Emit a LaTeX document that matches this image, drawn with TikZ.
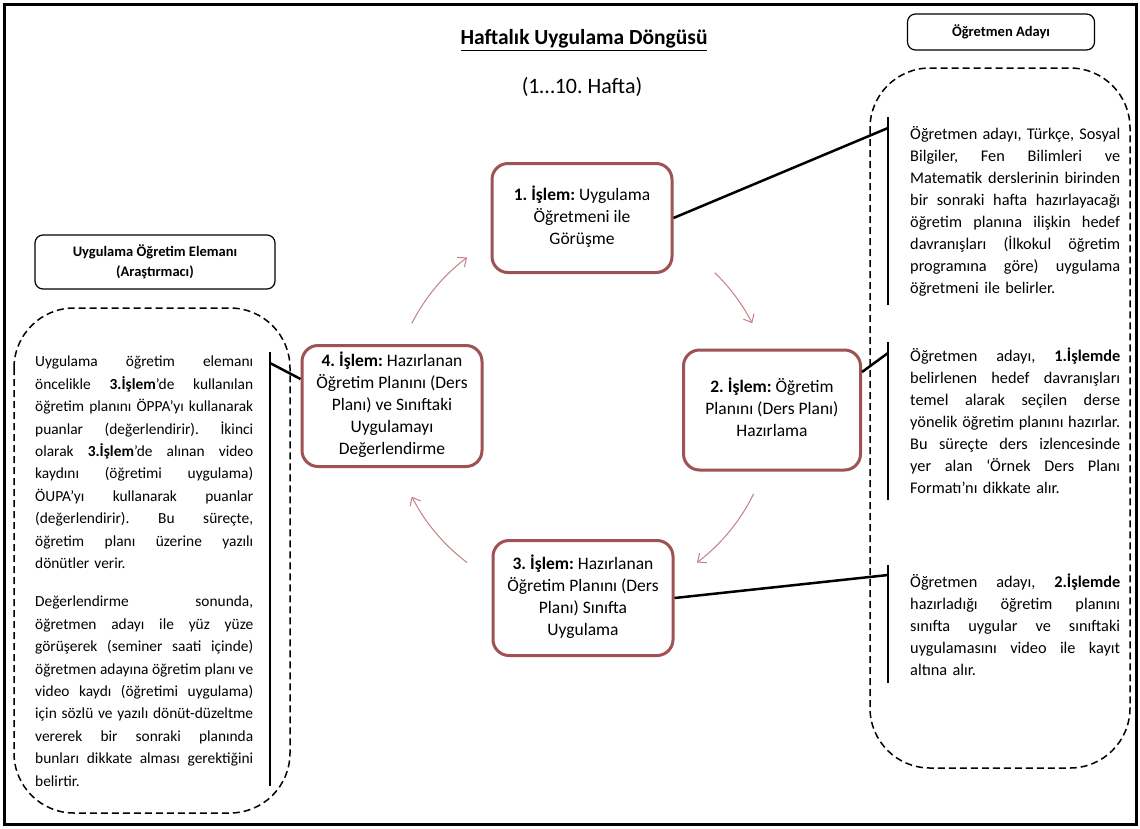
\documentclass[tikz,border=0pt]{standalone}
\usepackage{fontspec}
\setmainfont{Carlito}
\usetikzlibrary{arrows.meta,calc}
\definecolor{boxred}{RGB}{158,82,84}
\definecolor{cycred}{RGB}{196,128,132}
% one justified line of the given width; its word spaces stretch to fill it
\newcommand\jl[2][210pt]{\leavevmode\hbox to #1{\spaceskip=0.226em plus 3em minus 0.06em\xspaceskip=\spaceskip\strut#2}\\}
% last line of a paragraph, left aligned
\newcommand\lastl[1]{\strut#1}
\begin{document}
\frenchspacing
\begin{tikzpicture}[x=1pt,y=-1pt,
  body/.style={inner sep=0pt, anchor=north west, align=left},
  stage/.style={draw=boxred, line width=3pt, rounded corners=16pt, fill=white, align=center,
    font=\fontsize{17.5}{22}\selectfont, minimum width=180pt, inner sep=0pt},
  hdr/.style={draw, line width=1.2pt, rounded corners=8pt, align=center,
    font=\bfseries\fontsize{14.5}{20}\selectfont, inner sep=0pt},
  zone/.style={draw, line width=1.5pt, dash pattern=on 7pt off 4pt, rounded corners=60pt},
  bar/.style={line width=2.5pt},
  link/.style={line width=2.5pt},
  cyc/.style={draw=cycred, line width=1pt, -{Straight Barb[length=7pt,width=12pt]}}]
\useasboundingbox (0,0) rectangle (1140,828);
\fill[white] (0,0) rectangle (1140,828);
\draw[line width=3pt] (4,4) rectangle (1136,824);

% titles
\node[font=\bfseries\fontsize{21.5}{24}\selectfont] (title) at (584,40) {\underline{Haftalık Uygulama Döngüsü}};
\node[font=\frenchspacing\fontsize{22}{24}\selectfont] (week) at (582,87) {(1…10. Hafta)};

% role headers
\node[hdr, minimum width=187pt, minimum height=36pt] (cand) at (1001,32) {Öğretmen Adayı};
\node[hdr, minimum width=240pt, minimum height=54pt] (res) at (155,262) {Uygulama Öğretim Elemanı\\(Araştırmacı)};

% dashed zones
\draw[zone] (870,68) rectangle (1130,768);
\draw[zone] (14,308) rectangle (290,813);

% the four stages of the weekly cycle
\node[stage, minimum height=109pt] (b1) at (582,218)
  {\strut\textbf{1. İşlem:} Uygulama\\\strut Öğretmeni ile\\\strut Görüşme};
\node[stage, minimum width=177pt, minimum height=120pt] (b2) at (772,410)
  {\strut\textbf{2. İşlem:} Öğretim\\\strut Planını (Ders Planı)\\\strut Hazırlama};
\node[stage, minimum height=115pt] (b3) at (583,598)
  {\strut\textbf{3. İşlem:} Hazırlanan\\\strut Öğretim Planını (Ders\\\strut Planı) Sınıfta\\\strut Uygulama};
\node[stage, minimum height=121pt] (b4) at (392,406)
  {\strut\textbf{4. İşlem:} Hazırlanan\\\strut Öğretim Planını (Ders\\\strut Planı) ve Sınıftaki\\\strut Uygulamayı\\\strut Değerlendirme};

% cycle arrows on a circle round the centre
\coordinate (ctr) at (582,410);
\draw[cyc] ($(ctr)+(-153:191)$) arc[start angle=-153, end angle=-127, radius=191];
\draw[cyc] ($(ctr)+(-46:191)$) arc[start angle=-46, end angle=-27, radius=191];
\draw[cyc] ($(ctr)+(26:191)$) arc[start angle=26, end angle=53, radius=191];
\draw[cyc] ($(ctr)+(127:191)$) arc[start angle=127, end angle=153, radius=191];

% descriptions of the candidate's tasks
\node[body, text width=210pt, font=\frenchspacing\fontsize{16.3}{22}\selectfont] (t1) at (910,124) {%
\jl{Öğretmen adayı, Türkçe, Sosyal}
\jl{Bilgiler, Fen Bilimleri ve}
\jl{Matematik derslerinin birinden}
\jl{bir sonraki hafta hazırlayacağı}
\jl{öğretim planına ilişkin hedef}
\jl{davranışları (İlkokul öğretim}
\jl{programına göre) uygulama}
\lastl{öğretmeni ile belirler.}};

\node[body, text width=210pt, font=\frenchspacing\fontsize{16.3}{22}\selectfont] (t2) at (910,346) {%
\jl{Öğretmen adayı, \textbf{1.İşlemde}}
\jl{belirlenen hedef davranışları}
\jl{temel alarak seçilen derse}
\jl{yönelik öğretim planını hazırlar.}
\jl{Bu süreçte ders izlencesinde}
\jl{yer alan ‘Örnek Ders Planı}
\lastl{Formatı’nı dikkate alır.}};

\node[body, text width=210pt, font=\frenchspacing\fontsize{16.3}{22}\selectfont] (t3) at (910,572) {%
\jl{Öğretmen adayı, \textbf{2.İşlemde}}
\jl{hazırladığı öğretim planını}
\jl{sınıfta uygular ve sınıftaki}
\jl{uygulamasını video ile kayıt}
\lastl{altına alır.}};

% description of the researcher's task
\node[body, text width=218pt, font=\frenchspacing\fontsize{15.4}{22.4}\selectfont] (t4) at (35,351) {%
\jl[218pt]{Uygulama öğretim elemanı}
\jl[218pt]{öncelikle \textbf{3.İşlem}’de kullanılan}
\jl[218pt]{öğretim planını ÖPPA’yı kullanarak}
\jl[218pt]{puanlar (değerlendirir). İkinci}
\jl[218pt]{olarak \textbf{3.İşlem}’de alınan video}
\jl[218pt]{kaydını (öğretimi uygulama)}
\jl[218pt]{ÖUPA’yı kullanarak puanlar}
\jl[218pt]{(değerlendirir). Bu süreçte,}
\jl[218pt]{öğretim planı üzerine yazılı}
\lastl{dönütler verir.}\\[16pt]
\jl[218pt]{Değerlendirme sonunda,}
\jl[218pt]{öğretmen adayı ile yüz yüze}
\jl[218pt]{görüşerek (seminer saati içinde)}
\jl[218pt]{öğretmen adayına öğretim planı ve}
\jl[218pt]{video kaydı (öğretimi uygulama)}
\jl[218pt]{için sözlü ve yazılı dönüt-düzeltme}
\jl[218pt]{vererek bir sonraki planında}
\jl[218pt]{bunları dikkate alması gerektiğini}
\lastl{belirtir.}};

% bracket bars beside the descriptions
\coordinate (r1t) at (888,117); \coordinate (r1b) at (888,305); \coordinate (r1j) at (888,128);
\coordinate (r2t) at (888,342); \coordinate (r2b) at (888,500); \coordinate (r2j) at (888,353);
\coordinate (r3t) at (888,565); \coordinate (r3b) at (888,683); \coordinate (r3j) at (888,575);
\coordinate (l1t) at (270,352); \coordinate (l1b) at (270,786); \coordinate (l1j) at (270,363);
\draw[bar] (r1t) -- (r1b);
\draw[bar] (r2t) -- (r2b);
\draw[bar] (r3t) -- (r3b);
\draw[bar] (l1t) -- (l1b);

% links from the stages to their descriptions
\draw[link] (b1.east) -- (r1j);
\draw[link] ($(b2.east)+(0,-38)$) -- (r2j);
\draw[link] (b3.east) -- (r3j);
\draw[link] ($(b4.west)+(0,-27)$) -- (l1j);
\end{tikzpicture}
\end{document}
